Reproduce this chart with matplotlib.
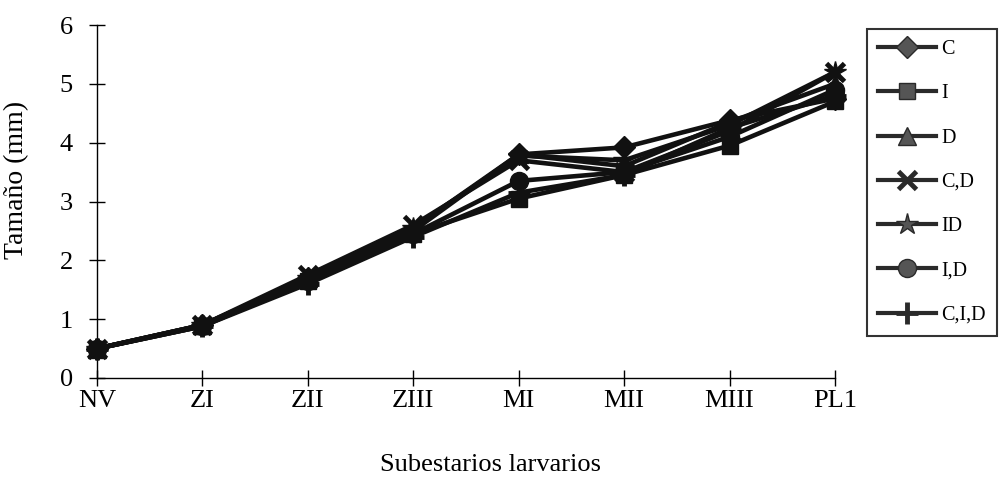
import matplotlib
matplotlib.use("Agg")
import matplotlib.pyplot as plt

stages = ["NV", "ZI", "ZII", "ZIII", "MI", "MII", "MIII", "PL1"]
series_names = ["C", "I", "D", "C,D", "ID", "I,D", "C,I,D"]
vals_C = [0.5, 0.9, 1.7, 2.5, 3.8, 3.92, 4.38, 4.75]
vals_I = [0.5, 0.88, 1.65, 2.45, 3.05, 3.45, 3.95, 4.7]
vals_D = [0.5, 0.9, 1.7, 2.55, 3.8, 3.6, 4.35, 5.0]
vals_CD = [0.5, 0.9, 1.75, 2.6, 3.7, 3.5, 4.2, 5.2]
vals_ID = [0.5, 0.9, 1.7, 2.55, 3.78, 3.7, 4.3, 5.2]
vals_I_D = [0.5, 0.88, 1.65, 2.45, 3.35, 3.5, 4.1, 4.9]
vals_CID = [0.5, 0.88, 1.6, 2.4, 3.15, 3.45, 4.25, 4.8]
yticks = [0, 1, 2, 3, 4, 5, 6]

all_vals = [vals_C, vals_I, vals_D, vals_CD, vals_ID, vals_I_D, vals_CID]
markers = ["D", "s", "^", "x", "*", "o", "+"]
msizes = [11, 12, 13, 13, 16, 13, 16]

plt.rcParams["font.family"] = ["Liberation Serif", "DejaVu Serif"]

fig = plt.figure(figsize=(10.06, 4.78), dpi=100)
ax = fig.add_axes([97/1006, 1-378/478, (835-97)/1006, (378-25)/478])

x = list(range(len(stages)))
handles = []
for name, v, m, ms in zip(series_names, all_vals, markers, msizes):
    mew = 3.5 if m in ("x", "+") else 1
    ax.plot(x, v, color="#111111", lw=3.3, marker=m, ms=ms, mew=mew,
            mfc="#111111", mec="#111111", zorder=3, clip_on=False)
    h, = ax.plot([], [], color="#2a2a2a", lw=3.0, marker=m, ms=ms, mew=mew,
                 mfc="#555555", mec="#2a2a2a")
    handles.append(h)

ax.set_xlim(0, 7)
ax.set_ylim(0, 6)
ax.set_xticks(x)
ax.set_xticklabels(stages, fontsize=19)
ax.set_yticks(yticks)
ax.set_yticklabels([str(t) for t in yticks], fontsize=19)
for s in ["top", "right"]:
    ax.spines[s].set_visible(False)
for s in ["left", "bottom"]:
    ax.spines[s].set_linewidth(1.0)
ax.tick_params(axis="both", direction="inout", length=11, width=1.0)
ax.tick_params(axis="x", pad=3)
ax.tick_params(axis="y", pad=12)

fig.text(490/1006, 1-465/478, "Subestarios larvarios", fontsize=19, ha="center", va="center")
fig.text(17/1006, 1-180/478, "Tamaño (mm)", fontsize=20, ha="center", va="center", rotation=90)

leg = fig.legend(handles, series_names, loc="upper left",
                 bbox_to_anchor=(867/1006, 1-29/478), fontsize=14.5,
                 handlelength=2.9, labelspacing=1.25, handletextpad=0.25,
                 borderpad=0.55, borderaxespad=0, frameon=True, fancybox=False)
leg.get_frame().set_edgecolor("black")
leg.get_frame().set_linewidth(1.5)

fig.savefig("out.png", dpi=100)
